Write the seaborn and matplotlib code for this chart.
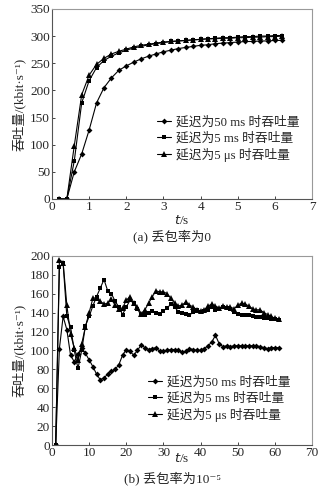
"""Throughput vs. time for three link delays, at two packet loss rates."""

import matplotlib
matplotlib.use("Agg")
import matplotlib.pyplot as plt
import seaborn as sns
import numpy as np
import pandas as pd

# (a) loss rate 0
t_a = np.round(np.arange(0.2, 6.21, 0.2), 1)
thr_a_50ms = [0, 0, 50, 83, 127, 177, 205, 223, 237, 245, 252, 258, 263, 267, 271, 274,
              277, 279, 281, 283, 284, 286, 287, 288, 289, 290, 290, 291, 291, 292, 292]
thr_a_5ms = [0, 0, 70, 177, 218, 242, 255, 263, 269, 274, 278, 281, 284, 286, 288, 290,
             291, 292, 293, 294, 295, 296, 297, 297, 298, 299, 299, 300, 300, 301, 301]
thr_a_5us = [0, 0, 98, 192, 228, 248, 259, 267, 272, 276, 280, 283, 285, 287, 289, 290,
             291, 292, 293, 294, 295, 295, 296, 296, 297, 297, 298, 298, 299, 299, 300]

# (b) loss rate 1e-5
t_b = np.arange(1, 62)
thr_b_50ms = [0, 102, 136, 122, 95, 88, 96, 103, 97, 90, 83, 75, 69, 71, 75, 78, 80, 85, 95, 101,
              99, 95, 100, 106, 103, 101, 102, 103, 99, 99, 100, 101, 101, 100, 98, 99, 102, 101,
              100, 100, 102, 105, 109, 116, 107, 104, 105, 104, 105, 105, 105, 105, 105, 105, 105,
              104, 103, 102, 103, 103, 103]
thr_b_5ms = [0, 188, 192, 136, 125, 100, 81, 100, 126, 136, 147, 157, 166, 175, 163, 160, 152,
             146, 138, 146, 153, 150, 144, 137, 138, 140, 142, 140, 139, 142, 145, 149, 146, 141,
             140, 139, 137, 141, 143, 141, 142, 143, 146, 143, 144, 146, 145, 144, 141, 139, 138,
             137, 137, 136, 135, 135, 134, 134, 133, 133, 132]
thr_b_5us = [0, 196, 193, 148, 117, 103, 90, 107, 125, 140, 155, 156, 152, 149, 150, 154, 148,
             144, 145, 153, 157, 150, 146, 139, 143, 150, 157, 163, 162, 162, 160, 155, 150, 147,
             148, 151, 148, 146, 143, 142, 143, 147, 149, 147, 145, 147, 146, 146, 144, 148, 150,
             149, 147, 144, 143, 143, 140, 138, 136, 134, 133]

labels = ["延迟为50 ms 时吞吐量", "延迟为5 ms 时吞吐量", "延迟为5 μs 时吞吐量"]
markers = ["D", "s", "^"]
msizes = [3, 3.5, 4]

sns.set_style("ticks")
plt.rcParams["font.family"] = ["Liberation Serif", "Noto Sans CJK SC", "DejaVu Sans"]
plt.rcParams["axes.unicode_minus"] = False

fig = plt.figure(figsize=(3.31, 4.95), dpi=100)
ax_a = fig.add_axes([0.157, 0.598, 0.786, 0.384])
ax_b = fig.add_axes([0.157, 0.101, 0.786, 0.382])


def draw_panel(ax, t, series, xlim, ylim, xticks, yticks, legend_anchor):
    for y, lab, m, ms in zip(series, labels, markers, msizes):
        df = pd.DataFrame({"t": t, "thr": y})
        sns.lineplot(data=df, x="t", y="thr", ax=ax, color="black", lw=0.8,
                     marker=m, markersize=ms, markeredgewidth=0, label=lab)
    ax.set_xlim(*xlim)
    ax.set_ylim(*ylim)
    ax.set_xticks(xticks)
    ax.set_yticks(yticks)
    ax.tick_params(direction="in", length=2, width=0.6, labelsize=9.5, pad=1.5)
    for side in ["top", "right"]:
        ax.spines[side].set_color("#999999")
    for side in ["left", "bottom"]:
        ax.spines[side].set_color("#555555")
    for s in ax.spines.values():
        s.set_linewidth(0.8)
    ax.set_xlabel("")
    ax.set_ylabel("吞吐量/(kbit·s⁻¹)", fontsize=9.5, labelpad=3)
    ax.legend(loc="upper left", bbox_to_anchor=legend_anchor, frameon=False, fontsize=9.2,
              handlelength=1.1, handletextpad=0.35, labelspacing=0.25, borderaxespad=0)


draw_panel(ax_a, t_a, [thr_a_50ms, thr_a_5ms, thr_a_5us], (0, 7), (0, 350),
           range(0, 8), range(0, 351, 50), (0.385, 0.462))
draw_panel(ax_b, t_b, [thr_b_50ms, thr_b_5ms, thr_b_5us], (0, 70), (0, 200),
           range(0, 71, 10), range(0, 201, 20), (0.35, 0.39))

fig.text(0.55, 1 - 220 / 495, "$t$/s", ha="center", va="center", fontsize=9.5,
         family="Liberation Serif")
fig.text(0.52, 1 - 236 / 495, "(a) 丢包率为0", ha="center", va="center", fontsize=9.5)
fig.text(0.55, 1 - 459 / 495, "$t$/s", ha="center", va="center", fontsize=9.5,
         family="Liberation Serif")
fig.text(0.52, 1 - 478 / 495, "(b) 丢包率为10⁻⁵", ha="center", va="center", fontsize=9.5)

plt.savefig("out.png", dpi=100)
plt.close()
